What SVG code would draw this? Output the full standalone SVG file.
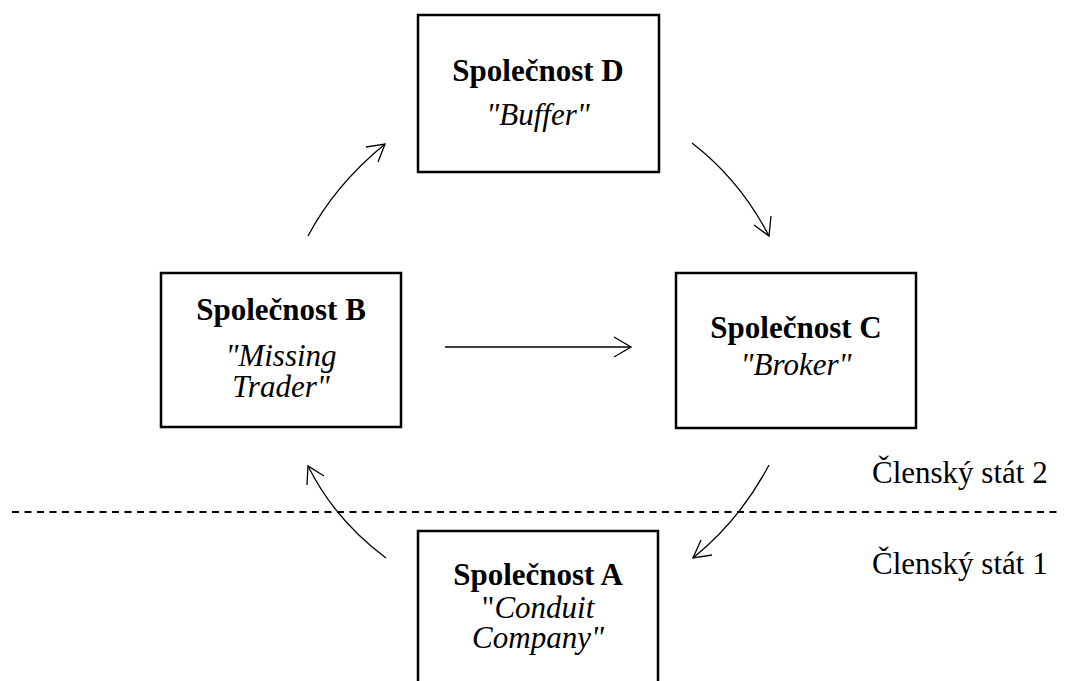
<svg xmlns="http://www.w3.org/2000/svg" width="1072" height="681" viewBox="0 0 1072 681">
<style>
.box{fill:#fff;stroke:#000;stroke-width:2.5}
.t{font-family:"Liberation Serif","Times New Roman",serif;font-size:31px;fill:#000;text-anchor:middle}
.b{font-weight:bold}
.i{font-style:italic}
.lbl{font-family:"Liberation Serif","Times New Roman",serif;font-size:31px;fill:#000}
.c{fill:none;stroke:#000;stroke-width:1.3}
</style>
<rect width="1072" height="681" fill="#fff"/>
<line x1="12" y1="512" x2="1062" y2="512" stroke="#000" stroke-width="1.8" stroke-dasharray="7,5.5"/>
<g id="nodeD">
<rect class="box" x="418" y="15" width="241" height="157"/>
<text class="t b" x="538" y="81">Společnost D</text>
<text class="t i" x="538" y="125">"Buffer"</text>
</g>
<g id="nodeB">
<rect class="box" x="161" y="273" width="240" height="154"/>
<text class="t b" x="281" y="320">Společnost B</text>
<text class="t i" x="281" y="366">"Missing</text>
<text class="t i" x="281" y="397">Trader"</text>
</g>
<g id="nodeC">
<rect class="box" x="676" y="273" width="240" height="155"/>
<text class="t b" x="796" y="338">Společnost C</text>
<text class="t i" x="796" y="375">"Broker"</text>
</g>
<g id="nodeA">
<rect class="box" x="418" y="531" width="240" height="170"/>
<text class="t b" x="538" y="585">Společnost A</text>
<text class="t" x="538" y="618">"<tspan class="i">Conduit</tspan></text>
<text class="t i" x="538" y="648">Company"</text>
</g>
<g id="labels">
<text class="lbl" x="872" y="483">Členský stát 2</text>
<text class="lbl" x="872" y="574">Členský stát 1</text>
</g>
<g id="connectors">
<path class="c" d="M308,236 Q335,185 385,144"/>
<path class="c" d="M366,147 L385,144 L378,162"/>
<path class="c" d="M692,143 Q740,180 769,236"/>
<path class="c" d="M754,225 L769,236 L771,216"/>
<path class="c" d="M445,347 L631,347"/>
<path class="c" d="M614,337 L631,347 L614,357"/>
<path class="c" d="M769,465 Q740,520 693,558"/>
<path class="c" d="M701,540 L693,558 L712,555"/>
<path class="c" d="M386,558 Q335,520 308,466"/>
<path class="c" d="M307,485 L308,466 L324,476"/>
</g>
</svg>
